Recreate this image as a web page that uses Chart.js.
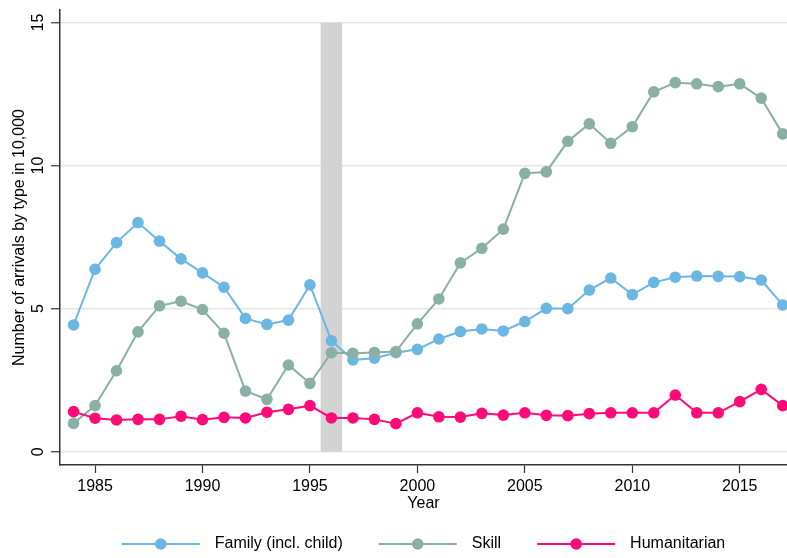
<!DOCTYPE html>
<html>
<head>
<meta charset="utf-8">
<script src="https://cdn.jsdelivr.net/npm/chart.js@4/dist/chart.umd.min.js"></script>
<style>
html,body{margin:0;padding:0;background:#fff;}
canvas{display:block;}
</style>
</head>
<body>
<canvas id="c" width="787" height="558"></canvas>
<script>
const years = [1984,1985,1986,1987,1988,1989,1990,1991,1992,1993,1994,1995,1996,1997,1998,1999,2000,2001,2002,2003,2004,2005,2006,2007,2008,2009,2010,2011,2012,2013,2014,2015,2016,2017];
const family = [4.43,6.38,7.31,8.01,7.36,6.74,6.25,5.75,4.66,4.45,4.60,5.83,3.88,3.21,3.27,3.46,3.58,3.94,4.20,4.29,4.22,4.55,5.01,5.00,5.65,6.07,5.49,5.92,6.10,6.14,6.13,6.12,6.00,5.13];
const skill = [0.99,1.61,2.83,4.19,5.10,5.26,4.97,4.14,2.12,1.83,3.03,2.39,3.46,3.44,3.47,3.50,4.47,5.34,6.60,7.11,7.78,9.73,9.78,10.85,11.46,10.78,11.36,12.58,12.90,12.86,12.76,12.86,12.36,11.11];
const humanitarian = [1.40,1.17,1.11,1.13,1.13,1.24,1.12,1.20,1.18,1.38,1.48,1.61,1.18,1.18,1.13,0.98,1.36,1.22,1.21,1.34,1.28,1.36,1.27,1.26,1.33,1.36,1.36,1.36,1.98,1.36,1.36,1.75,2.18,1.61];
const seriesNames = ["Family (incl. child)", "Skill", "Humanitarian"];
const xTicks = [1985,1990,1995,2000,2005,2010,2015];
const yTicks = [0,5,10,15];
const shadeRange = [1995.5, 1996.5];
const shadeY = [0, 15];

const colors = ["#6CB6E2", "#8AAFA5", "#FF0A78"];
const FONT = "'Liberation Sans', Arial, Helvetica, sans-serif";

function pts(vals){ return years.map((y,i)=>({x:y, y:vals[i]})); }

const shadePlugin = {
  id: 'shade',
  beforeDatasetsDraw(chart){
    const {ctx, scales:{x, y}} = chart;
    const x0 = x.getPixelForValue(shadeRange[0]);
    const x1 = x.getPixelForValue(shadeRange[1]);
    const y0 = y.getPixelForValue(shadeY[1]);
    const y1 = y.getPixelForValue(shadeY[0]);
    ctx.save();
    ctx.fillStyle = '#d3d3d3';
    ctx.fillRect(x0, y0, x1 - x0, y1 - y0);
    ctx.restore();
  }
};

const legendPlugin = {
  id: 'customLegend',
  afterDraw(chart){
    const {ctx, chartArea} = chart;
    ctx.save();
    ctx.font = "16px " + FONT;
    const lineW = 78, textGap = 15, itemGap = 36;
    const items = chart.data.datasets.map(d => ({label: d.label, color: d.borderColor, w: ctx.measureText(d.label).width}));
    let total = 0;
    items.forEach((it,i)=>{ total += lineW + textGap + it.w + (i < items.length-1 ? itemGap : 0); });
    let xPos = (chartArea.left + chartArea.right)/2 - total/2;
    const yPos = 544;
    items.forEach(it => {
      ctx.strokeStyle = it.color;
      ctx.lineWidth = 2;
      ctx.beginPath();
      ctx.moveTo(xPos, yPos);
      ctx.lineTo(xPos + lineW, yPos);
      ctx.stroke();
      ctx.fillStyle = it.color;
      ctx.beginPath();
      ctx.arc(xPos + lineW/2, yPos, 5.8, 0, Math.PI*2);
      ctx.fill();
      ctx.fillStyle = '#000';
      ctx.textBaseline = 'middle';
      ctx.textAlign = 'left';
      ctx.fillText(it.label, xPos + lineW + textGap, yPos);
      xPos += lineW + textGap + it.w + itemGap;
    });
    ctx.restore();
  }
};

function ds(label, vals, color, order){
  return {
    label, data: pts(vals), borderColor: color, backgroundColor: color,
    pointBackgroundColor: color, pointBorderWidth: 0, pointRadius: 5.8,
    pointHoverRadius: 5.8, borderWidth: 2, tension: 0, order
  };
}

new Chart(document.getElementById('c'), {
  type: 'line',
  data: {
    datasets: [
      ds(seriesNames[0], family, colors[0], 3),
      ds(seriesNames[1], skill, colors[1], 2),
      ds(seriesNames[2], humanitarian, colors[2], 1)
    ]
  },
  plugins: [shadePlugin, legendPlugin],
  options: {
    responsive: false,
    animation: false,
    layout: { autoPadding: false, padding: { top: 10, right: 0, bottom: 43, left: 0 } },
    plugins: { legend: { display: false }, tooltip: { enabled: false } },
    scales: {
      x: {
        type: 'linear',
        min: 1983.37, max: 2017.2,
        afterBuildTicks: s => { s.ticks = xTicks.map(v => ({value: v})); },
        afterFit: s => { s.height = 50; s.paddingLeft = 0; s.paddingRight = 0; },
        ticks: {
          callback: v => String(v), color: '#000', padding: 4,
          font: { family: FONT, size: 16 }, maxRotation: 0, minRotation: 0
        },
        grid: { drawOnChartArea: false, drawTicks: true, tickLength: 8, tickColor: '#333', tickWidth: 1.2 },
        border: { display: true, color: '#333', width: 1.5 },
        title: { display: true, text: 'Year', color: '#000', font: { family: FONT, size: 16 }, padding: { top: 0, bottom: 2 } }
      },
      y: {
        type: 'linear',
        min: -0.465, max: 15.44,
        afterBuildTicks: s => { s.ticks = yTicks.map(v => ({value: v})); },
        afterFit: s => { s.width = 60; s.paddingTop = 0; s.paddingBottom = 0; },
        ticks: {
          callback: v => String(v), color: '#000', padding: 4, crossAlign: 'center',
          font: { family: FONT, size: 16 }, minRotation: 90, maxRotation: 90
        },
        grid: { drawOnChartArea: true, color: '#e6e6e6', lineWidth: 1.5, drawTicks: true, tickLength: 9, tickColor: '#333', tickWidth: 1.2 },
        border: { display: true, color: '#333', width: 1.5 },
        title: { display: true, text: 'Number of arrivals by type in 10,000', color: '#000', font: { family: FONT, size: 16 }, padding: { top: 10, bottom: 0 } }
      }
    }
  }
});
</script>
</body>
</html>
